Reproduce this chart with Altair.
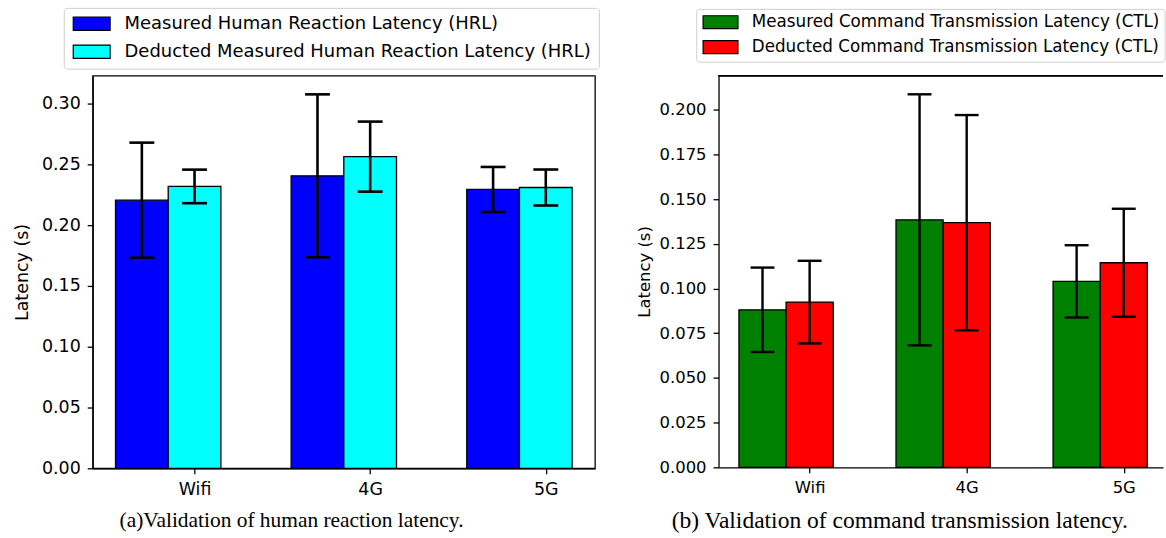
import json
import altair as alt
import pandas as pd

# ---------------- data ----------------
networks = ["Wifi", "4G", "5G"]

hrl_series = ["Measured Human Reaction Latency (HRL)",
              "Deducted Measured Human Reaction Latency (HRL)"]
hrl_colors = ["#0000ff", "#00ffff"]
hrl_measured = [0.2205, 0.2405, 0.2293]
hrl_measured_err = [0.0473, 0.0670, 0.0185]
hrl_deducted = [0.2318, 0.2563, 0.2309]
hrl_deducted_err = [0.0138, 0.0288, 0.0148]

ctl_series = ["Measured Command Transmission Latency (CTL)",
              "Deducted Command Transmission Latency (CTL)"]
ctl_colors = ["#008000", "#ff0000"]
ctl_measured = [0.0881, 0.1384, 0.1040]
ctl_measured_err = [0.0236, 0.0702, 0.0202]
ctl_deducted = [0.0924, 0.1368, 0.1144]
ctl_deducted_err = [0.0231, 0.0602, 0.0302]

hrl_yticks = [0.0, 0.05, 0.10, 0.15, 0.20, 0.25, 0.30]
ctl_yticks = [0.0, 0.025, 0.05, 0.075, 0.10, 0.125, 0.15, 0.175, 0.20]

captions = ["(a)Validation of human reaction latency.",
            "(b) Validation of command transmission latency."]

BAR_W = 0.3


def make_df(series, measured, measured_err, deducted, deducted_err):
    rows = []
    for s_i, (vals, errs) in enumerate([(measured, measured_err),
                                        (deducted, deducted_err)]):
        for g_i, net in enumerate(networks):
            rows.append({"network": net, "gidx": g_i, "sidx": s_i,
                         "series": series[s_i], "value": vals[g_i],
                         "err": errs[g_i]})
    return pd.DataFrame(rows)


label_expr = f"{json.dumps(networks)}[round(datum.value - {BAR_W})]"


def panel(df, series, colors, width, height, xdom, yticks, yfmt, fs, lfs,
          legend_x, legend_y, legend_pad, sym_size, sym_path, sym_offset,
          label_offset, row_pad, caption, cap_x, cap_y, cap_size,
          err_w, cap_w, title_pad, open_frame):
    ymax = float((df["value"] + df["err"]).max()) * 1.05
    base = alt.Chart(df).transform_calculate(
        pos=f"datum.gidx + {BAR_W} * datum.sidx",
        left=f"datum.gidx + {BAR_W} * datum.sidx - {BAR_W / 2}",
        right=f"datum.gidx + {BAR_W} * datum.sidx + {BAR_W / 2}",
        lo="datum.value - datum.err",
        hi="datum.value + datum.err",
        zero="0",
    )
    xscale = alt.Scale(domain=xdom, nice=False, zero=False)
    yscale = alt.Scale(domain=[0, ymax], nice=False, zero=False)
    x_axis = alt.Axis(values=[i + BAR_W for i in range(len(networks))],
                      labelExpr=label_expr, title=None, grid=False,
                      labelFontSize=fs, labelPadding=7)
    y_axis = alt.Axis(values=yticks, format=yfmt, title="Latency (s)",
                      grid=False, labelFontSize=fs, titleFontSize=fs,
                      labelPadding=7, titlePadding=title_pad)
    bars = base.mark_rect(stroke="black", strokeWidth=1.3).encode(
        x=alt.X("left:Q", scale=xscale, axis=x_axis),
        x2="right:Q",
        y=alt.Y("value:Q", scale=yscale, axis=y_axis),
        y2="zero:Q",
        color=alt.Color(
            "series:N",
            scale=alt.Scale(domain=series, range=colors),
            legend=alt.Legend(
                title=None, orient="none", legendX=legend_x, legendY=legend_y,
                direction="vertical", symbolType=sym_path,
                symbolSize=sym_size, symbolStrokeColor="black",
                symbolStrokeWidth=1.2, symbolOpacity=1,
                symbolOffset=sym_offset, labelOffset=label_offset,
                labelFont="DejaVu Sans", labelFontSize=lfs, labelColor="black",
                labelLimit=1000, rowPadding=row_pad, padding=legend_pad,
                strokeColor="#d0d0d0", fillColor="white", cornerRadius=3,
            ),
        ),
    )
    err = base.mark_rule(color="black", strokeWidth=err_w).encode(
        x=alt.X("pos:Q", scale=xscale, axis=x_axis),
        y=alt.Y("lo:Q", scale=yscale, axis=y_axis),
        y2="hi:Q",
    )
    cap_hi = base.mark_tick(color="black", orient="horizontal", size=cap_w,
                            thickness=err_w, opacity=1).encode(
        x=alt.X("pos:Q", scale=xscale, axis=x_axis),
        y=alt.Y("hi:Q", scale=yscale, axis=y_axis),
    )
    cap_lo = base.mark_tick(color="black", orient="horizontal", size=cap_w,
                            thickness=err_w, opacity=1).encode(
        x=alt.X("pos:Q", scale=xscale, axis=x_axis),
        y=alt.Y("lo:Q", scale=yscale, axis=y_axis),
    )
    cap_text = alt.Chart(pd.DataFrame({"caption": [caption]})).mark_text(
        font="Liberation Serif", fontSize=cap_size, color="black",
        align="left", baseline="middle",
    ).encode(text="caption:N", x=alt.value(cap_x), y=alt.value(cap_y))
    layers = [bars, err, cap_hi, cap_lo, cap_text]
    props = dict(width=width, height=height)
    if open_frame:
        top = alt.Chart(df).mark_rule(color="black", strokeWidth=1.3).encode(
            x=alt.value(0), x2=alt.value(width), y=alt.value(0))
        layers.append(top)
        props["view"] = alt.ViewBackground(stroke="transparent")
    return alt.layer(*layers).properties(**props)


hrl_df = make_df(hrl_series, hrl_measured, hrl_measured_err,
                 hrl_deducted, hrl_deducted_err)
ctl_df = make_df(ctl_series, ctl_measured, ctl_measured_err,
                 ctl_deducted, ctl_deducted_err)

left = panel(hrl_df, hrl_series, hrl_colors, width=504, height=394,
             xdom=[-0.28, 2.58], yticks=hrl_yticks, yfmt=".2f", fs=17.5,
             lfs=18.0, legend_x=-29, legend_y=-68, legend_pad=7,
             sym_size=177, sym_path="M-2.78,-1L2.78,-1L2.78,1L-2.78,1Z",
             sym_offset=12, label_offset=24, row_pad=8.0,
             caption=captions[0], cap_x=27, cap_y=447, cap_size=21.5,
             err_w=2.6, cap_w=25, title_pad=10, open_frame=False)

right = panel(ctl_df, ctl_series, ctl_colors, width=446, height=393,
              xdom=[-0.28, 2.55], yticks=ctl_yticks, yfmt=".3f", fs=16.5,
              lfs=16.8, legend_x=-22.4, legend_y=-67, legend_pad=5,
              sym_size=169, sym_path="M-2.69,-1L2.69,-1L2.69,1L-2.69,1Z",
              sym_offset=11, label_offset=23, row_pad=6.0,
              caption=captions[1], cap_x=-47, cap_y=447, cap_size=23.6,
              err_w=2.4, cap_w=24, title_pad=7, open_frame=True)

chart = (
    alt.hconcat(left, right, spacing=34)
    .resolve_scale(x="independent", y="independent", color="independent")
    .resolve_legend(color="independent")
    .properties(padding={"left": 12, "top": 5, "right": 0, "bottom": 0},
                background="white")
    .configure_axis(domainColor="black", domainWidth=1.3, tickColor="black",
                    tickWidth=1.3, tickSize=5.5, labelColor="black",
                    titleColor="black", labelFont="DejaVu Sans",
                    titleFont="DejaVu Sans", titleFontWeight="normal")
    .configure_view(stroke="black", strokeWidth=1.3)
)

chart.save("out.html", embed_options={"renderer": "svg", "actions": False})
